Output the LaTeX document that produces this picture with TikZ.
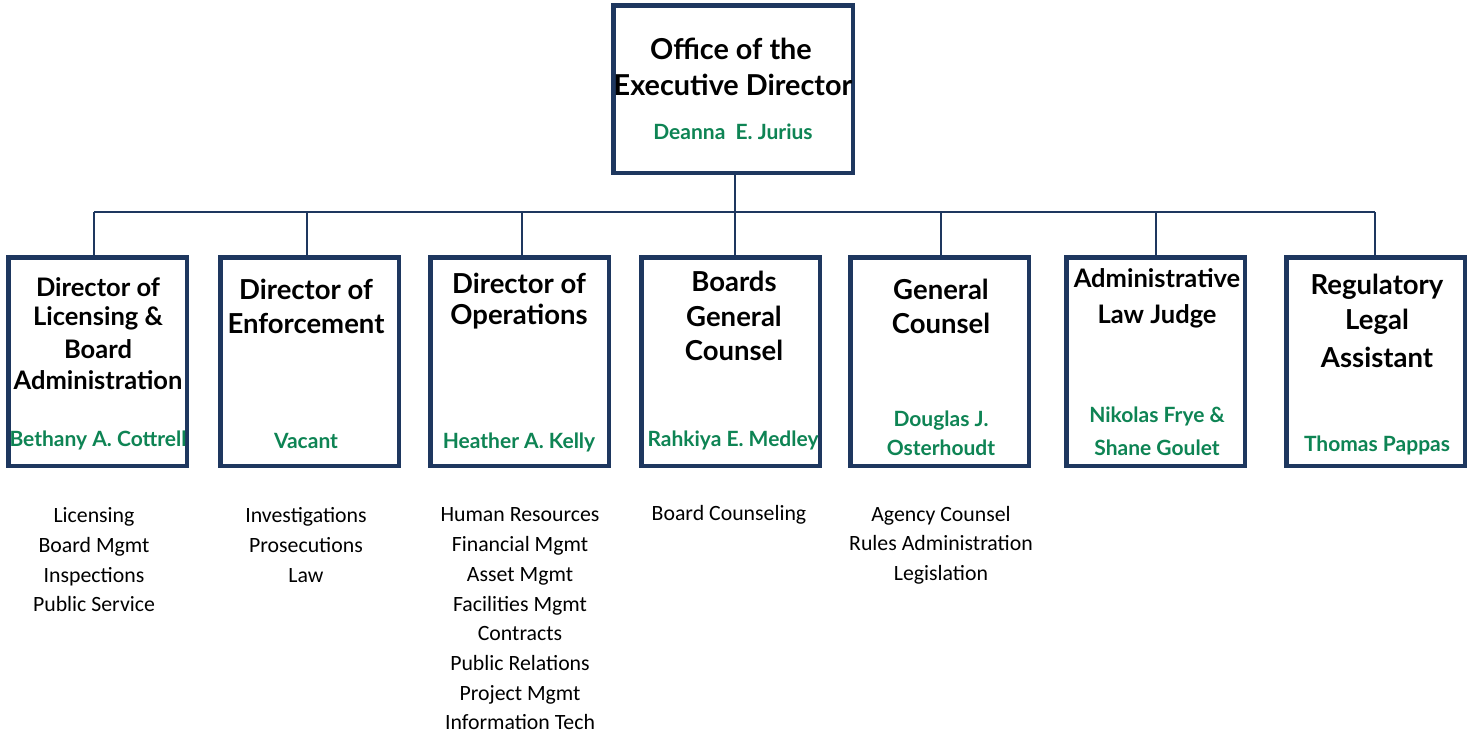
\documentclass[tikz,border=0pt]{standalone}
\usepackage{fontspec}
\setmainfont{Lato}
\newfontfamily\descfont{Carlito}
\definecolor{navy}{RGB}{30,55,95}
\definecolor{namegreen}{RGB}{14,132,84}
\tikzset{
  box/.style={draw=navy, line width=4.5pt, fill=white, minimum width=178.5pt, minimum height=208.5pt, inner sep=0pt},
  topbox/.style={draw=navy, line width=4.5pt, fill=white, minimum width=239.5pt, minimum height=167.5pt, inner sep=0pt},
  conn/.style={draw=navy, line width=1.8pt},
  ttl/.style={font=\fontsize{27.5}{31}\selectfont\bfseries, text=black, align=center, inner sep=0pt},
  ttlsm/.style={font=\fontsize{25.5}{31}\selectfont\bfseries, text=black, align=center, inner sep=0pt},
  bigttl/.style={font=\fontsize{28.8}{36}\selectfont\bfseries, text=black, align=center, inner sep=0pt},
  nm/.style={font=\fontsize{21}{27}\selectfont\bfseries, text=namegreen, align=center, inner sep=0pt},
  desc/.style={font=\descfont\fontsize{21.8}{29.7}\selectfont, text=black, align=center, inner sep=0pt}
}
\begin{document}
\begin{tikzpicture}[x=1pt,y=-1pt]
\useasboundingbox (0,0) rectangle (1471,734);
% boxes
\node[topbox] (top) at (733,89) {};
\node[box] (c1) at (97.5,361.5) {};
\node[box] (c2) at (309.5,361.5) {};
\node[box] (c3) at (519.5,361.5) {};
\node[box] (c4) at (730.5,361.5) {};
\node[box] (c5) at (939.5,361.5) {};
\node[box] (c6) at (1155.5,361.5) {};
\node[box] (c7) at (1375.5,361.5) {};
% bus coordinates
\coordinate (b1) at (94,212);
\coordinate (b2) at (307,212);
\coordinate (b3) at (522,212);
\coordinate (b4) at (735,212);
\coordinate (b5) at (941,212);
\coordinate (b6) at (1156,212);
\coordinate (b7) at (1375,212);
\draw[conn] (b1) -- (b7);
\draw[conn] (top.south -| b4) -- (c4.north -| b4);
\draw[conn] (b1) -- (c1.north -| b1);
\draw[conn] (b2) -- (c2.north -| b2);
\draw[conn] (b3) -- (c3.north -| b3);
\draw[conn] (b5) -- (c5.north -| b5);
\draw[conn] (b6) -- (c6.north -| b6);
\draw[conn] (b7) -- (c7.north -| b7);
% top texts
\node[bigttl] (t0a) at (731,49) {Office of the};
\node[bigttl] (t0b) at (733,85) {Executive Director};
\node[nm] (n0) at (733,132) {Deanna\ \ E. Jurius};
% child titles
\node[ttlsm] (t1a) at (98,287) {Director of};
\node[ttlsm] (t1b) at (98,318) {Licensing \&};
\node[ttlsm] (t1c) at (98,349) {Board};
\node[ttlsm] (t1d) at (98,380) {Administration};
\node[nm] (n1) at (98,440) {Bethany A. Cottrell};
\node[ttl] (t2a) at (306,289) {Director of};
\node[ttl] (t2b) at (306,323) {Enforcement};
\node[nm] (n2) at (306,441) {Vacant};
\node[ttl] (t3a) at (519,283) {Director of};
\node[ttl] (t3b) at (519,317) {Operations};
\node[nm] (n3) at (519,442) {Heather A. Kelly};
\node[ttl] (t4a) at (734,281) {Boards};
\node[ttl] (t4b) at (734,316) {General};
\node[ttl] (t4c) at (734,350) {Counsel};
\node[nm] (n4) at (733,440) {Rahkiya E. Medley};
\node[ttl] (t5a) at (941,289) {General};
\node[ttl] (t5b) at (941,323) {Counsel};
\node[nm] (n5a) at (941,421) {Douglas J.};
\node[nm] (n5b) at (941,448) {Osterhoudt};
\node[ttlsm] (t6a) at (1157,278) {Administrative};
\node[ttlsm] (t6b) at (1157,316) {Law Judge};
\node[nm] (n6a) at (1157,416) {Nikolas Frye \&};
\node[nm] (n6b) at (1157,448) {Shane Goulet};
\node[ttl] (t7a) at (1377,287) {Regulatory};
\node[ttl] (t7b) at (1377,322) {Legal};
\node[ttl] (t7c) at (1377,357) {Assistant};
\node[nm] (n7) at (1377,445) {Thomas Pappas};
% descriptions
\node[desc] (d1) at (94,560) {Licensing\\Board Mgmt\\Inspections\\Public Service};
\node[desc] (d2) at (306,545) {Investigations\\Prosecutions\\Law};
\node[desc] (d3) at (520,619) {Human Resources\\Financial Mgmt\\Asset Mgmt\\Facilities Mgmt\\Contracts\\Public Relations\\Project Mgmt\\Information Tech};
\node[desc] (d4) at (729,515) {Board Counseling};
\node[desc] (d5) at (941,545) {Agency Counsel\\Rules Administration\\Legislation};
\end{tikzpicture}
\end{document}
